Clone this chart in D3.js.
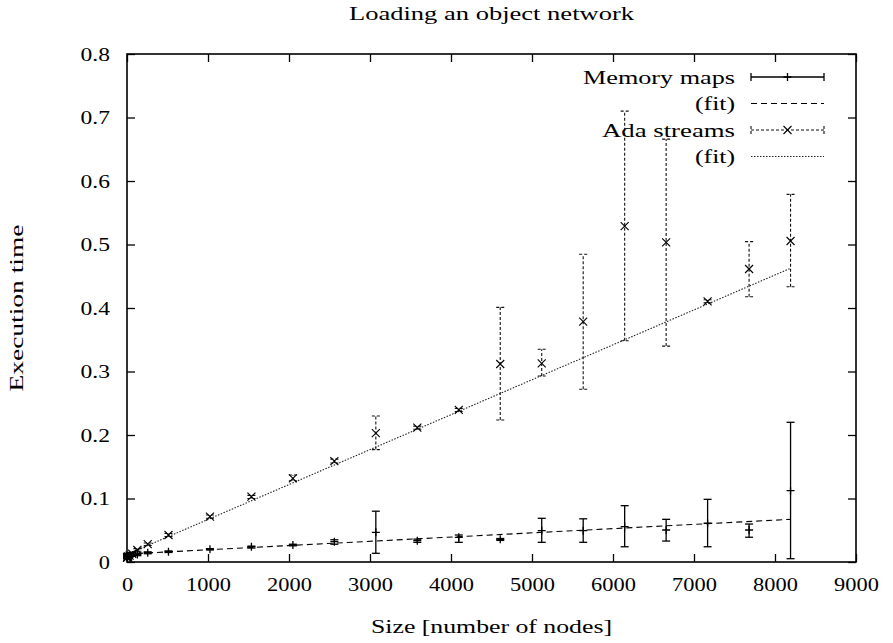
<!DOCTYPE html>
<html>
<head>
<meta charset="utf-8">
<script src="https://cdn.jsdelivr.net/npm/d3@7"></script>
<style>
  html, body { margin: 0; padding: 0; background: #fff; }
  svg { display: block; }
</style>
</head>
<body>
<svg id="chart" width="893" height="643"></svg>
<script>
// ---------- data ----------
const sizes = [1, 2, 4, 8, 16, 32, 64, 128, 256, 512, 1024, 1536, 2048, 2560, 3072, 3584, 4096, 4608, 5120, 5632, 6144, 6656, 7168, 7680, 8192];

const memMean = [0.008, 0.008, 0.009, 0.009, 0.010, 0.010, 0.011, 0.012, 0.0146, 0.0162, 0.020, 0.024, 0.0268, 0.032, 0.0468, 0.0336, 0.0389, 0.0357, 0.0493, 0.0493, 0.0556, 0.0504, 0.061, 0.0504, 0.1123];
const memLow  = [0.006, 0.006, 0.007, 0.007, 0.008, 0.008, 0.009, 0.010, 0.0130, 0.0150, 0.019, 0.022, 0.0255, 0.028, 0.0137, 0.031, 0.031, 0.034, 0.031, 0.031, 0.024, 0.033, 0.024, 0.039, 0.0052];
const memHigh = [0.010, 0.010, 0.011, 0.011, 0.012, 0.012, 0.013, 0.014, 0.0160, 0.0175, 0.021, 0.025, 0.0280, 0.035, 0.080, 0.036, 0.0425, 0.037, 0.0688, 0.068, 0.0887, 0.0672, 0.0987, 0.0598, 0.22];

const adaMean = [0.007, 0.007, 0.008, 0.008, 0.009, 0.010, 0.013, 0.0189, 0.0283, 0.0425, 0.0713, 0.1028, 0.1318, 0.159, 0.203, 0.2115, 0.2394, 0.3118, 0.3129, 0.3784, 0.529, 0.5034, 0.4105, 0.4614, 0.5055];
const adaLow  = [0.005, 0.005, 0.006, 0.006, 0.007, 0.008, 0.011, 0.017, 0.026, 0.040, 0.069, 0.100, 0.128, 0.156, 0.177, 0.209, 0.237, 0.2236, 0.293, 0.272, 0.3485, 0.340, 0.408, 0.4178, 0.4335];
const adaHigh = [0.009, 0.009, 0.010, 0.010, 0.011, 0.012, 0.015, 0.021, 0.030, 0.045, 0.074, 0.105, 0.137, 0.162, 0.230, 0.214, 0.242, 0.401, 0.335, 0.4846, 0.710, 0.666, 0.413, 0.5045, 0.579];

// fitted lines: values at both ends of the data range
const fitX = [1, 8192];
const memFitY = [0.0126, 0.0672];
const adaFitY = [0.012, 0.4626];

const xTicks = [0, 1000, 2000, 3000, 4000, 5000, 6000, 7000, 8000, 9000];
const yTicks = [0, 0.1, 0.2, 0.3, 0.4, 0.5, 0.6, 0.7, 0.8];

const legendLabels = ["Memory maps", "(fit)", "Ada streams", "(fit)"];

const titleText = "Loading an object network";
const xLabelText = "Size [number of nodes]";
const yLabelText = "Execution time";

// ---------- layout ----------
const L = 127, R = 856, T = 54, B = 562;
const FS = 19;
const FONT = "'Liberation Serif', 'DejaVu Serif', serif";
const svg = d3.select("#chart");

const x = d3.scaleLinear().domain([0, 9000]).range([L, R]);
const y = d3.scaleLinear().domain([0, 0.8]).range([B, T]);

function labelWidth(s) {
  let w = 0;
  for (const c of s) w += (c === ".") ? 7 : 11.2;
  return w;
}
function styleText(sel) {
  return sel.style("font-family", FONT).style("font-size", FS + "px")
    .style("font-weight", "normal").attr("fill", "#000")
    .attr("lengthAdjust", "spacingAndGlyphs");
}

// ---------- axes ----------
const fmtY = d => d === 0 ? "0" : d.toFixed(1);

const gx = svg.append("g").attr("transform", `translate(0,${B})`)
  .call(d3.axisBottom(x).tickValues(xTicks).tickSizeInner(-8).tickSizeOuter(0).tickFormat(d3.format("d")));
gx.select(".domain").remove();
gx.selectAll(".tick line").attr("stroke", "#000").attr("stroke-width", 1.3);
gx.selectAll(".tick text")
  .attr("y", 28.5).attr("dy", null)
  .attr("textLength", d => labelWidth(String(d)))
  .call(styleText);

const gxt = svg.append("g").attr("transform", `translate(0,${T})`)
  .call(d3.axisTop(x).tickValues(xTicks).tickSizeInner(-8).tickSizeOuter(0).tickFormat(""));
gxt.select(".domain").remove();
gxt.selectAll(".tick line").attr("stroke", "#000").attr("stroke-width", 1.3);

const gy = svg.append("g").attr("transform", `translate(${L},0)`)
  .call(d3.axisLeft(y).tickValues(yTicks).tickSizeInner(-8).tickSizeOuter(0).tickFormat(fmtY));
gy.select(".domain").remove();
gy.selectAll(".tick line").attr("stroke", "#000").attr("stroke-width", 1.3);
gy.selectAll(".tick text")
  .attr("x", -17).attr("dy", "0.34em")
  .attr("textLength", d => labelWidth(fmtY(d)))
  .call(styleText);

const gyr = svg.append("g").attr("transform", `translate(${R},0)`)
  .call(d3.axisRight(y).tickValues(yTicks).tickSizeInner(-8).tickSizeOuter(0).tickFormat(""));
gyr.select(".domain").remove();
gyr.selectAll(".tick line").attr("stroke", "#000").attr("stroke-width", 1.3);

// border
svg.append("rect")
  .attr("x", L).attr("y", T).attr("width", R - L).attr("height", B - T)
  .attr("fill", "none").attr("stroke", "#000").attr("stroke-width", 1.6);

// ---------- titles ----------
svg.append("text").attr("x", (L + R) / 2).attr("y", 20)
  .attr("text-anchor", "middle")
  .attr("textLength", 285)
  .call(styleText)
  .text(titleText);

svg.append("text").attr("x", (L + R) / 2).attr("y", 633)
  .attr("text-anchor", "middle")
  .attr("textLength", 241)
  .call(styleText)
  .text(xLabelText);

svg.append("text")
  .attr("transform", `translate(23,${(T + B) / 2}) rotate(-90)`)
  .attr("text-anchor", "middle")
  .attr("textLength", 167)
  .call(styleText)
  .text(yLabelText);

// ---------- marks ----------
const plot = svg.append("g");
const CAP = 4, MK = 4;

const memData = sizes.map((s, i) => ({ s, m: memMean[i], lo: memLow[i], hi: memHigh[i] }));
const adaData = sizes.map((s, i) => ({ s, m: adaMean[i], lo: adaLow[i], hi: adaHigh[i] }));

// fit lines
const line = d3.line().x(d => x(d[0])).y(d => y(d[1]));
plot.append("path")
  .attr("d", line(fitX.map((v, i) => [v, adaFitY[i]])))
  .attr("fill", "none").attr("stroke", "#222").attr("stroke-width", 1.1)
  .attr("stroke-dasharray", "1.5,1.5");
plot.append("path")
  .attr("d", line(fitX.map((v, i) => [v, memFitY[i]])))
  .attr("fill", "none").attr("stroke", "#000").attr("stroke-width", 1.1)
  .attr("stroke-dasharray", "6,4");

// error bar drawer
function drawErr(g, data, dash, stroke, width) {
  const eg = g.append("g").attr("stroke", stroke).attr("stroke-width", width).attr("fill", "none");
  if (dash) eg.attr("stroke-dasharray", dash);
  data.forEach(d => {
    const cx = x(d.s);
    eg.append("line").attr("x1", cx).attr("x2", cx).attr("y1", y(d.lo)).attr("y2", y(d.hi));
    eg.append("line").attr("x1", cx - CAP).attr("x2", cx + CAP).attr("y1", y(d.lo)).attr("y2", y(d.lo));
    eg.append("line").attr("x1", cx - CAP).attr("x2", cx + CAP).attr("y1", y(d.hi)).attr("y2", y(d.hi));
  });
}

function plusPath(cx, cy, r) {
  return `M${cx - r},${cy}H${cx + r}M${cx},${cy - r}V${cy + r}`;
}
function crossPath(cx, cy, r) {
  return `M${cx - r},${cy - r}L${cx + r},${cy + r}M${cx - r},${cy + r}L${cx + r},${cy - r}`;
}

drawErr(plot, adaData, "3,2", "#111", 1.1);
drawErr(plot, memData, null, "#000", 1.3);

plot.append("g").selectAll("path").data(adaData).join("path")
  .attr("d", d => crossPath(x(d.s), y(d.m), MK))
  .attr("stroke", "#000").attr("stroke-width", 1.1).attr("fill", "none");
plot.append("g").selectAll("path").data(memData).join("path")
  .attr("d", d => plusPath(x(d.s), y(d.m), MK))
  .attr("stroke", "#000").attr("stroke-width", 1.3).attr("fill", "none");

// ---------- legend ----------
const legW = [152, 40, 133, 40];
const legY0 = 77, legDY = 26.5;
const lx1 = 751, lx2 = 824, lxm = (lx1 + lx2) / 2;
const leg = svg.append("g");
legendLabels.forEach((lab, i) => {
  const ly = legY0 + i * legDY;
  leg.append("text").attr("x", 735).attr("y", ly + 6.5)
    .attr("text-anchor", "end")
    .attr("textLength", legW[i])
    .call(styleText)
    .text(lab);
  if (i === 0) {
    leg.append("path")
      .attr("d", `M${lx1},${ly}H${lx2}M${lx1},${ly - CAP}V${ly + CAP}M${lx2},${ly - CAP}V${ly + CAP}`)
      .attr("stroke", "#000").attr("stroke-width", 1.3).attr("fill", "none");
    leg.append("path").attr("d", plusPath(lxm, ly, MK))
      .attr("stroke", "#000").attr("stroke-width", 1.3).attr("fill", "none");
  } else if (i === 1) {
    leg.append("line").attr("x1", lx1).attr("x2", lx2).attr("y1", ly).attr("y2", ly)
      .attr("stroke", "#000").attr("stroke-width", 1.1).attr("stroke-dasharray", "6,4");
  } else if (i === 2) {
    leg.append("path")
      .attr("d", `M${lx1},${ly}H${lx2}M${lx1},${ly - CAP}V${ly + CAP}M${lx2},${ly - CAP}V${ly + CAP}`)
      .attr("stroke", "#111").attr("stroke-width", 1.1).attr("fill", "none")
      .attr("stroke-dasharray", "3,2");
    leg.append("path").attr("d", crossPath(lxm, ly, MK))
      .attr("stroke", "#000").attr("stroke-width", 1.1).attr("fill", "none");
  } else {
    leg.append("line").attr("x1", lx1).attr("x2", lx2).attr("y1", ly).attr("y2", ly)
      .attr("stroke", "#222").attr("stroke-width", 1.1).attr("stroke-dasharray", "1.5,1.5");
  }
});
</script>
</body>
</html>
